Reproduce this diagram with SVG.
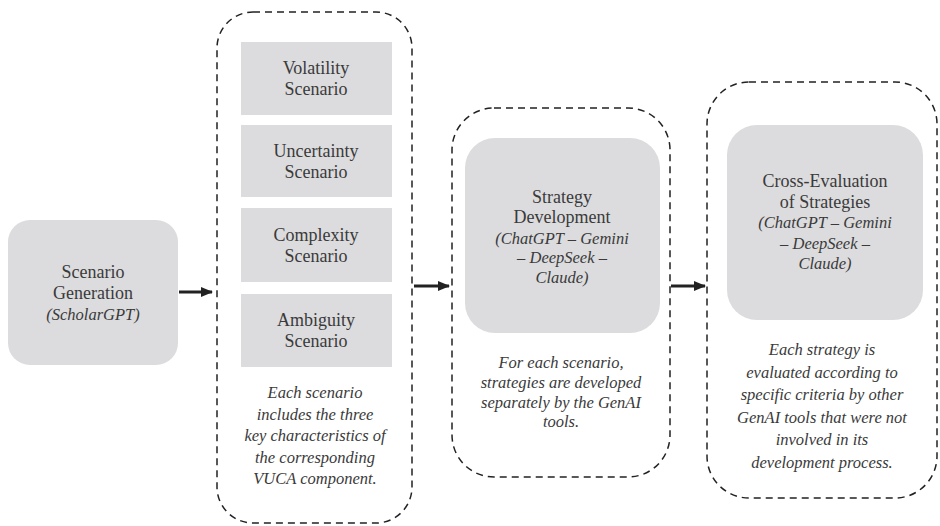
<svg xmlns="http://www.w3.org/2000/svg" width="940" height="526" viewBox="0 0 940 526">
<defs>
<style>
.box{fill:#dcdcde;stroke:none}
.cont{fill:none;stroke:#222;stroke-width:1.5;stroke-dasharray:7 5}
.t{font-family:'Liberation Serif','DejaVu Serif',serif;font-size:18px;fill:#3a3a3a;text-anchor:middle}
.i{font-family:'Liberation Serif','DejaVu Serif',serif;font-size:16.5px;font-style:italic;fill:#3a3a3a;text-anchor:middle}
.arr{stroke:#222;stroke-width:3;fill:none}
</style>
<marker id="ah" markerUnits="userSpaceOnUse" markerWidth="12" markerHeight="12" viewBox="0 0 12 12" refX="11" refY="6" orient="auto">
<path d="M0,1 L12,6 L0,11 Z" fill="#222"/>
</marker>
</defs>
<rect width="940" height="526" fill="#fff"/>

<g id="connectors">
<line class="arr" x1="179" y1="292" x2="212" y2="292" marker-end="url(#ah)"/>
<line class="arr" x1="414" y1="286" x2="449" y2="286" marker-end="url(#ah)"/>
<line class="arr" x1="671" y1="286" x2="705" y2="286" marker-end="url(#ah)"/>
</g>

<g id="scenario-generation">
<rect class="box" x="8" y="220" width="170" height="145" rx="22"/>
<text class="t" x="93" y="278">Scenario</text>
<text class="t" x="93" y="299">Generation</text>
<text class="i" x="93" y="320">(ScholarGPT)</text>
</g>

<g id="vuca-scenarios">
<rect class="cont" x="217" y="12" width="195" height="511" rx="36"/>
<g id="volatility">
<rect class="box" x="241" y="42" width="151" height="73"/>
<text class="t" x="316" y="74">Volatility</text>
<text class="t" x="316" y="95">Scenario</text>
</g>
<g id="uncertainty">
<rect class="box" x="241" y="125" width="151" height="72"/>
<text class="t" x="316" y="157">Uncertainty</text>
<text class="t" x="316" y="178">Scenario</text>
</g>
<g id="complexity">
<rect class="box" x="241" y="208" width="151" height="74"/>
<text class="t" x="316" y="241">Complexity</text>
<text class="t" x="316" y="262">Scenario</text>
</g>
<g id="ambiguity">
<rect class="box" x="241" y="294" width="151" height="73"/>
<text class="t" x="316" y="326">Ambiguity</text>
<text class="t" x="316" y="347">Scenario</text>
</g>
<text class="i" x="315" y="398">Each scenario</text>
<text class="i" x="315" y="420">includes the three</text>
<text class="i" x="315" y="441">key characteristics of</text>
<text class="i" x="315" y="463">the corresponding</text>
<text class="i" x="315" y="484">VUCA component.</text>
</g>

<g id="strategy-development">
<rect class="cont" x="452" y="108" width="218" height="369" rx="42"/>
<rect class="box" x="465" y="138" width="195" height="195" rx="30"/>
<text class="t" x="562" y="203">Strategy</text>
<text class="t" x="562" y="223">Development</text>
<text class="i" x="562" y="244">(ChatGPT – Gemini</text>
<text class="i" x="562" y="263">– DeepSeek –</text>
<text class="i" x="562" y="283">Claude)</text>
<text class="i" x="561" y="368">For each scenario,</text>
<text class="i" x="561" y="388">strategies are developed</text>
<text class="i" x="561" y="408">separately by the GenAI</text>
<text class="i" x="561" y="427">tools.</text>
</g>

<g id="cross-evaluation">
<rect class="cont" x="707" y="82" width="230" height="416" rx="42"/>
<rect class="box" x="727" y="125" width="196" height="195" rx="30"/>
<text class="t" x="825" y="187">Cross-Evaluation</text>
<text class="t" x="825" y="208">of Strategies</text>
<text class="i" x="825" y="228">(ChatGPT – Gemini</text>
<text class="i" x="825" y="249">– DeepSeek –</text>
<text class="i" x="825" y="269">Claude)</text>
<text class="i" x="822" y="355">Each strategy is</text>
<text class="i" x="822" y="378">evaluated according to</text>
<text class="i" x="822" y="400">specific criteria by other</text>
<text class="i" x="822" y="423">GenAI tools that were not</text>
<text class="i" x="822" y="445">involved in its</text>
<text class="i" x="822" y="468">development process.</text>
</g>
</svg>
